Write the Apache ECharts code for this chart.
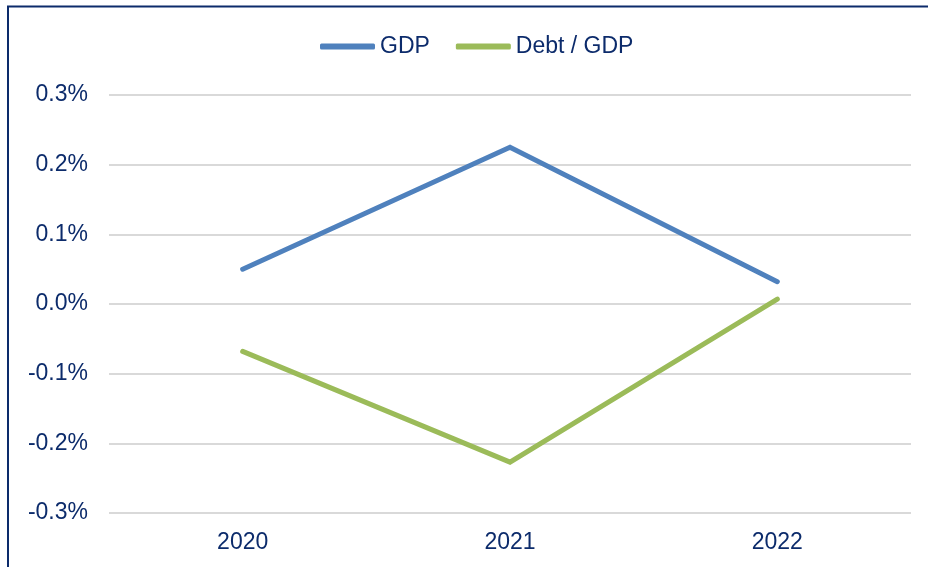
<!DOCTYPE html>
<html>
<head>
<meta charset="utf-8">
<script src="https://cdn.jsdelivr.net/npm/echarts@6/dist/echarts.min.js"></script>
<style>
  html, body { margin: 0; padding: 0; background: #ffffff; }
  #chart { width: 928px; height: 567px; }
</style>
</head>
<body>
<div id="chart"></div>
<script>
// Years on the category axis
const years = ['2020', '2021', '2022'];
// Annual changes, in percent
const gdp = [0.050, 0.225, 0.032];
const debtToGdp = [-0.068, -0.227, 0.007];
// Value axis range (percent)
const yMin = -0.3;
const yMax = 0.3;
const yStep = 0.1;

const navy = '#0C2B6B';
const font = "'Liberation Sans', Arial, sans-serif";

const chart = echarts.init(document.getElementById('chart'));
chart.setOption({
  backgroundColor: '#ffffff',
  animation: false,
  textStyle: { fontFamily: font, color: navy },
  graphic: [{
    type: 'rect',
    shape: { x: 8, y: 6.5, width: 2000, height: 2000 },
    style: { fill: 'none', stroke: navy, lineWidth: 2 },
    silent: true
  }],
  legend: {
    left: 315,
    top: 30,
    icon: 'roundRect',
    itemWidth: 55,
    itemHeight: 6,
    itemGap: 26,
    textStyle: { fontFamily: font, fontSize: 23, color: navy, padding: [0, 0, 0, 0] },
    data: ['GDP', 'Debt / GDP']
  },
  grid: { left: 109, right: 17, top: 95, bottom: 54, containLabel: false },
  xAxis: {
    type: 'category',
    data: years,
    boundaryGap: true,
    axisLine: { show: false },
    axisTick: { show: false },
    axisLabel: { fontFamily: font, fontSize: 23, color: navy, margin: 18 }
  },
  yAxis: {
    type: 'value',
    min: yMin,
    max: yMax,
    interval: yStep,
    axisLine: { show: false },
    axisTick: { show: false },
    axisLabel: {
      fontFamily: font, fontSize: 23, color: navy, margin: 21,
      formatter: v => v.toFixed(1) + '%'
    },
    splitLine: { show: true, lineStyle: { color: '#D9D9D9', width: 2 } }
  },
  series: [
    {
      name: 'GDP',
      type: 'line',
      data: gdp,
      symbol: 'none',
      color: '#4F81BD',
      lineStyle: { color: '#4F81BD', width: 5, cap: 'round', join: 'miter' }
    },
    {
      name: 'Debt / GDP',
      type: 'line',
      data: debtToGdp,
      symbol: 'none',
      color: '#9BBB59',
      lineStyle: { color: '#9BBB59', width: 5, cap: 'round', join: 'miter' }
    }
  ]
});
</script>
</body>
</html>
